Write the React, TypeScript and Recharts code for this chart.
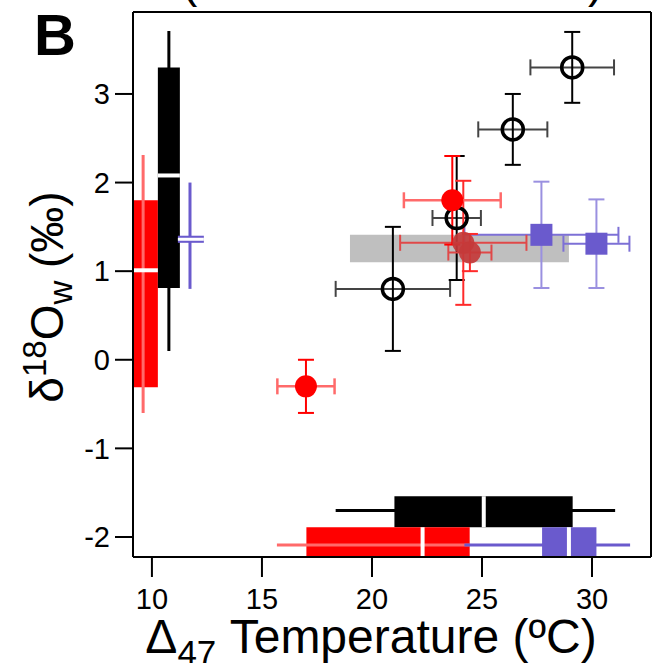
import {
  ComposedChart,
  Scatter,
  XAxis,
  YAxis,
  ErrorBar,
  ReferenceArea,
  ReferenceLine,
} from "recharts";

const FONT = "'Liberation Sans', Arial, sans-serif";

const xDomain = [9.14, 32.68];
const yDomain = [-2.226, 3.925];
const xTicks = [10, 15, 20, 25, 30];
const yTicks = [-2, -1, 0, 1, 2, 3];

// open black circles
const openT = [29.1, 26.4, 23.85, 20.95];
const openD = [3.3, 2.6, 1.6, 0.8];
const openTErr = [1.9, 1.57, 1.1, 2.6];
const openDErr = [0.4, 0.4, 0.7, 0.7];

// red filled circles
const redT = [17.0, 23.65];
const redD = [-0.3, 1.8];
const redTErr = [1.3, 2.2];
const redDErr = [0.3, 0.5];

// darker red circles (on the grey band)
const darkT = [24.15, 24.45];
const darkD = [1.32, 1.21];
const darkTErr = [2.87, 0.98];
const darkDErr = [0.7, 0.21];

// blue squares
const blueT = [27.7, 30.2];
const blueD = [1.41, 1.31];
const blueTErr = [3.5, 1.5];
const blueDErr = [0.6, 0.5];

// grey band
const bandT = [19.0, 28.95];
const bandD = [1.1, 1.41];

// vertical box plots (d18O) : red, black, blue
const vColors = ["#ff0000", "#000000", "#6a5acd"];
const vWhiskerColors = ["#ff6a6a", "#000000", "#6a5acd"];
const vLeft = [9.14, 10.27, 11.18];
const vRight = [10.27, 11.27, 12.36];
const vQ1 = [-0.31, 0.81, 1.32];
const vQ3 = [1.8, 3.3, 1.4];
const vMed = [1.01, 2.08, 1.36];
const vLo = [-0.6, 0.1, 0.8];
const vHi = [2.31, 3.71, 2.0];
const vWhiskerT = [9.6, 10.77, 11.73];

// horizontal box plots (temperature) : black, red, blue
const hColors = ["#000000", "#ff0000", "#6a5acd"];
const hWhiskerColors = ["#000000", "#ff6a6a", "#6a5acd"];
const hQ1 = [21.02, 17.02, 27.73];
const hQ3 = [29.12, 24.44, 30.2];
const hMed = [25.08, 22.3, 28.95];
const hLo = [18.35, 15.68, 24.2];
const hHi = [31.05, 24.44, 31.73];
const hBottom = [-1.89, -2.226, -2.226];
const hTop = [-1.54, -1.89, -1.89];
const hWhiskerD = [-1.7, -2.09, -2.09];

const rows = (t: number[], d: number[], te: number[], de: number[]) =>
  t.map((v, i) => ({ t: v, d: d[i], te: te[i], de: de[i] }));

const openData = rows(openT, openD, openTErr, openDErr);
const redData = rows(redT, redD, redTErr, redDErr);
const darkData = rows(darkT, darkD, darkTErr, darkDErr);
const blueData = rows(blueT, blueD, blueTErr, blueDErr);

const OpenCircle = (p: any) => (
  <circle cx={p.cx} cy={p.cy} r={10.5} fill="none" stroke="#000" strokeWidth={3.5} />
);
const RedDot = (p: any) => <circle cx={p.cx} cy={p.cy} r={11} fill="#ff0000" />;
const DarkDot = (p: any) => (
  <circle cx={p.cx} cy={p.cy} r={11} fill="#c43a3a" fillOpacity={0.92} />
);
const BlueSquare = (p: any) => (
  <rect x={p.cx - 11} y={p.cy - 11} width={22} height={22} fill="#6a5acd" />
);

const tickStyle = { fontFamily: FONT, fontSize: 29, fill: "#000" };

export default function App() {
  return (
    <div style={{ position: "absolute", left: 0, top: 0, width: 653, height: 663, background: "#fff" }}>
      <ComposedChart
        width={653}
        height={663}
        margin={{ top: 11, right: 1, left: 0, bottom: 0 }}
      >
        <XAxis
          xAxisId={0}
          dataKey="t"
          type="number"
          domain={xDomain}
          ticks={xTicks}
          allowDataOverflow
          height={106}
          tickSize={20}
          tickMargin={11}
          tick={tickStyle}
          axisLine={{ stroke: "#000", strokeWidth: 2 }}
          tickLine={{ stroke: "#000", strokeWidth: 2 }}
        />
        <XAxis
          xAxisId="top"
          orientation="top"
          type="number"
          domain={xDomain}
          allowDataOverflow
          height={1}
          tick={false}
          tickLine={false}
          axisLine={{ stroke: "#000", strokeWidth: 2 }}
        />
        <YAxis
          yAxisId={0}
          dataKey="d"
          type="number"
          domain={yDomain}
          ticks={yTicks}
          allowDataOverflow
          width={133}
          tickSize={18}
          tickMargin={5}
          tick={tickStyle}
          axisLine={{ stroke: "#000", strokeWidth: 2 }}
          tickLine={{ stroke: "#000", strokeWidth: 2 }}
        />
        <YAxis
          yAxisId="right"
          orientation="right"
          type="number"
          domain={yDomain}
          allowDataOverflow
          width={1}
          tick={false}
          tickLine={false}
          axisLine={{ stroke: "#000", strokeWidth: 2 }}
        />

        <ReferenceArea
          x1={bandT[0]}
          x2={bandT[1]}
          y1={bandD[0]}
          y2={bandD[1]}
          fill="#bfbfbf"
          fillOpacity={1}
          stroke="none"
        />

        {vColors.map((c, i) => [
          <ReferenceLine
            key={`vw${i}`}
            segment={[{ x: vWhiskerT[i], y: vLo[i] }, { x: vWhiskerT[i], y: vHi[i] }]}
            stroke={vWhiskerColors[i]}
            strokeWidth={3}
            ifOverflow="visible"
          />,
          <ReferenceArea
            key={`vb${i}`}
            x1={vLeft[i]}
            x2={vRight[i]}
            y1={vQ1[i]}
            y2={vQ3[i]}
            fill={c}
            fillOpacity={1}
            stroke="none"
            ifOverflow="visible"
          />,
          <ReferenceLine
            key={`vm${i}`}
            segment={[{ x: vLeft[i], y: vMed[i] }, { x: vRight[i], y: vMed[i] }]}
            stroke="#fff"
            strokeWidth={i === 2 ? 3 : 4}
            ifOverflow="visible"
          />,
        ])}

        {hColors.map((c, i) => [
          <ReferenceLine
            key={`hw${i}`}
            segment={[{ x: hLo[i], y: hWhiskerD[i] }, { x: hHi[i], y: hWhiskerD[i] }]}
            stroke={hWhiskerColors[i]}
            strokeWidth={3}
            ifOverflow="visible"
          />,
          <ReferenceArea
            key={`hb${i}`}
            x1={hQ1[i]}
            x2={hQ3[i]}
            y1={hBottom[i]}
            y2={hTop[i]}
            fill={c}
            fillOpacity={1}
            stroke="none"
            ifOverflow="visible"
          />,
          <ReferenceLine
            key={`hm${i}`}
            segment={[{ x: hMed[i], y: hBottom[i] }, { x: hMed[i], y: hTop[i] }]}
            stroke="#fff"
            strokeWidth={4}
            ifOverflow="visible"
          />,
        ])}

        <Scatter data={blueData} shape={BlueSquare} isAnimationActive={false}>
          <ErrorBar dataKey="te" direction="x" width={8} stroke="#7d70d6" strokeWidth={2} />
          <ErrorBar dataKey="de" direction="y" width={8} stroke="#9a90e0" strokeWidth={2} />
        </Scatter>
        <Scatter data={openData} shape={OpenCircle} isAnimationActive={false}>
          <ErrorBar dataKey="te" direction="x" width={8} stroke="#444" strokeWidth={2} />
          <ErrorBar dataKey="de" direction="y" width={8} stroke="#000" strokeWidth={2} />
        </Scatter>
        <Scatter data={darkData} shape={DarkDot} isAnimationActive={false}>
          <ErrorBar dataKey="te" direction="x" width={8} stroke="#e04848" strokeWidth={2} />
          <ErrorBar dataKey="de" direction="y" width={8} stroke="#ff2a2a" strokeWidth={2} />
        </Scatter>
        <Scatter data={redData} shape={RedDot} isAnimationActive={false}>
          <ErrorBar dataKey="te" direction="x" width={8} stroke="#ff6a6a" strokeWidth={2.5} />
          <ErrorBar dataKey="de" direction="y" width={8} stroke="#ff0000" strokeWidth={2} />
        </Scatter>
      </ComposedChart>

      <svg
        width={653}
        height={663}
        style={{ position: "absolute", left: 0, top: 0, pointerEvents: "none" }}
        fontFamily={FONT}
      >
        <text x={182} y={-3} fontSize={46}>(</text>
        <text x={588} y={-3} fontSize={46}>)</text>
        <text x={34} y={55} fontSize={58} fontWeight="bold">B</text>
        <text
          transform="translate(63 297) rotate(-90)"
          textAnchor="middle"
          fontSize={46}
        >
          <tspan>δ</tspan>
          <tspan fontSize={33} dy={-17}>18</tspan>
          <tspan dy={17}>O</tspan>
          <tspan fontSize={33} dy={9}>w</tspan>
          <tspan dy={-9}> (‰)</tspan>
        </text>
        <text x={371} y={653} textAnchor="middle" fontSize={48}>
          <tspan>Δ</tspan>
          <tspan fontSize={35} dy={12}>47</tspan>
          <tspan dy={-12}> Temperature (ºC)</tspan>
        </text>
      </svg>
    </div>
  );
}
